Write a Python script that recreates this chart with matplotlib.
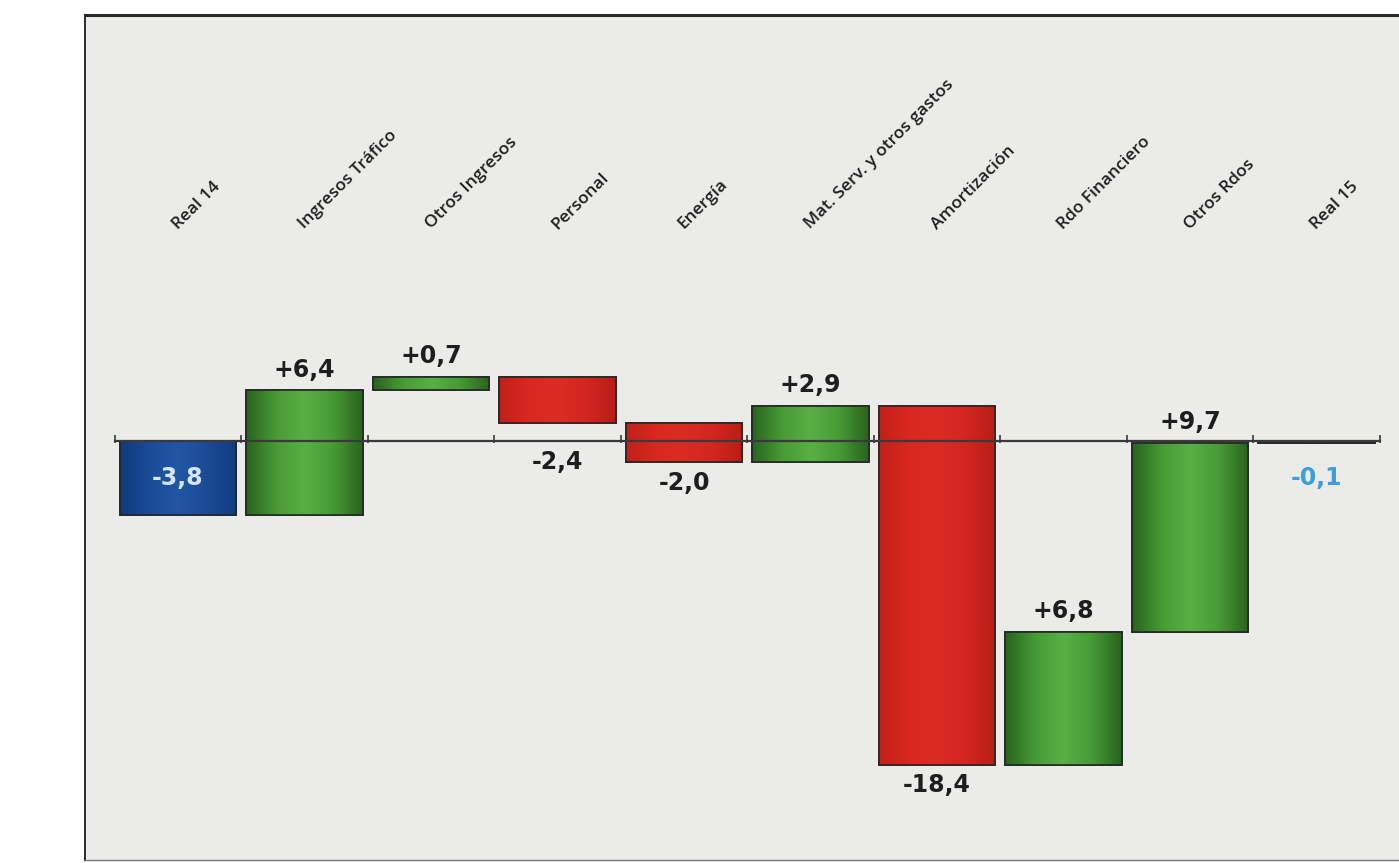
"""Waterfall of the result bridge from Real 14 to Real 15."""
import numpy as np
import matplotlib
matplotlib.use('Agg')
from matplotlib import pyplot as plt
from matplotlib.colors import LinearSegmentedColormap

categories = ['Real 14', 'Ingresos Tráfico', 'Otros Ingresos', 'Personal',
              'Energía', 'Mat. Serv. y otros gastos', 'Amortización',
              'Rdo Financiero', 'Otros Rdos', 'Real 15']
deltas = [-3.8, 6.4, 0.7, -2.4, -2.0, 2.9, -18.4, 6.8, 9.7, -0.1]
is_total = [True, False, False, False, False, False, False, False, False,
            True]

GREEN = LinearSegmentedColormap.from_list(
    'grn', ['#29651e', '#489a36', '#58b044', '#489a36', '#29651e'])
BLUE = LinearSegmentedColormap.from_list(
    'blu', ['#103a7c', '#1a4b96', '#2257a6', '#1a4b96', '#123d80'])
RED = LinearSegmentedColormap.from_list(
    'red', ['#c22019', '#d8281f', '#db2b22', '#d32620', '#b91d17'])


def fmt(value, total):
    """Spanish style number with explicit sign for deltas."""
    text = f'{value:.1f}' if total else f'{value:+.1f}'
    return text.replace('.', ',')


def main():
    """Draw the waterfall."""
    fig = plt.figure(figsize=(13.99, 8.63), dpi=100)
    fig.patch.set_facecolor('white')
    ax = fig.add_axes([85 / 1399, 3 / 863, 0.95, 845 / 863])
    ax.set_facecolor('#ebebe9')

    # bar spans of the waterfall
    bottoms, tops = [], []
    level = 0.0
    for val, tot in zip(deltas, is_total):
        start = 0.0 if tot else level
        end = start + val
        bottoms.append(min(start, end))
        tops.append(max(start, end))
        level = end
    x = np.arange(len(categories))
    width = 0.92

    grad = np.linspace(0, 1, 64).reshape(1, -1)
    for xi, val, tot, lo, hi in zip(x, deltas, is_total, bottoms, tops):
        if tot:
            cmap = BLUE
        elif val > 0:
            cmap = GREEN
        else:
            cmap = RED
        bar = ax.bar(xi, hi - lo, bottom=lo, width=width, color=cmap(0.5),
                     edgecolor='#262626', linewidth=1.2, zorder=2)[0]
        img = ax.imshow(grad, cmap=cmap, aspect='auto', zorder=2.1,
                        extent=[xi - width / 2, xi + width / 2, lo, hi])
        img.set_clip_path(bar)
        ax.bar(xi, hi - lo, bottom=lo, width=width, fill=False,
               edgecolor='#262626', linewidth=1.2, zorder=2.2)

    # category axis drawn at zero
    ax.plot([-0.5, len(categories) - 0.5], [0, 0], color='#3a3a3a', lw=1.6,
            zorder=3)
    ax.vlines(np.arange(len(categories) + 1) - 0.5, -0.1, 0.3,
              color='#3a3a3a', lw=1.2, zorder=3)

    label_font = dict(fontsize=17, fontweight='bold', family='DejaVu Sans',
                      zorder=4, ha='center')
    for xi, val, tot, lo, hi in zip(x, deltas, is_total, bottoms, tops):
        text = fmt(val, tot)
        if tot:
            ypos = (bottoms[0] + tops[0]) / 2
            color = '#d6e6f6' if xi == 0 else '#3c9fd9'
            ax.text(xi, ypos, text, va='center', color=color, **label_font)
        elif val > 0:
            ax.text(xi, hi + 0.45, text, va='bottom', color='#1e1e1e',
                    **label_font)
        else:
            ax.text(xi, min(lo, 0) - 0.45, text, va='top', color='#1e1e1e',
                    **label_font)

    for xi, name in zip(x, categories):
        ax.text(xi + 0.02, 10.7, name, rotation=45, ha='left', va='bottom',
                rotation_mode='anchor', fontsize=12.5, fontweight='semibold',
                color='#1f1f1f', family='Open Sans')

    ax.set_xlim(-0.735, 9.77)
    ax.set_ylim(-21.49, 21.85)
    ax.set_xticks([])
    ax.set_yticks([])
    ax.spines['top'].set_linewidth(2.2)
    ax.spines['top'].set_color('#2a2a2a')
    ax.spines['left'].set_linewidth(1.4)
    ax.spines['left'].set_color('#2a2a2a')
    ax.spines['right'].set_visible(False)
    ax.spines['bottom'].set_linewidth(1.0)
    ax.spines['bottom'].set_color('#777777')

    fig.savefig('out.png', dpi=100)
    plt.close(fig)


if __name__ == '__main__':
    main()
